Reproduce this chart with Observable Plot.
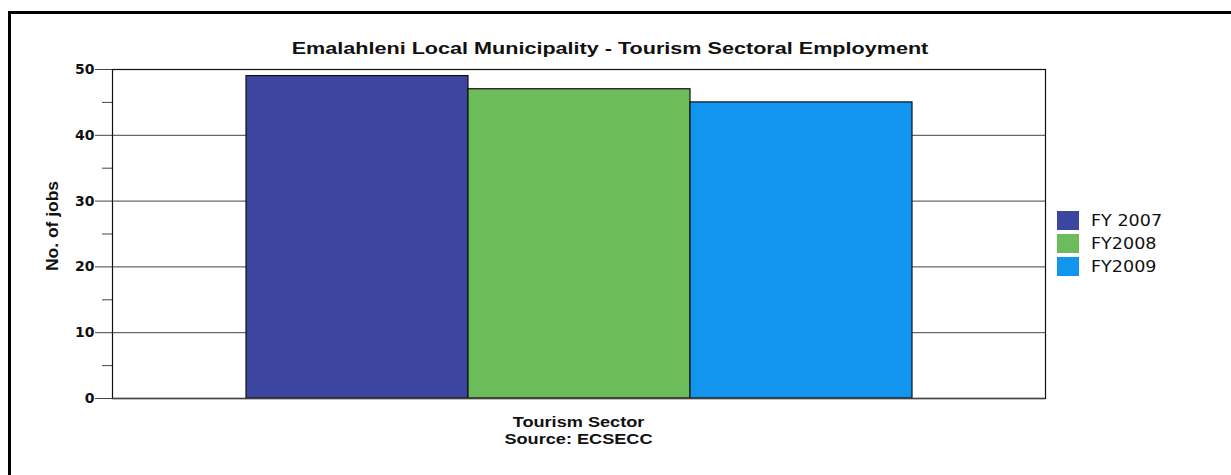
<!DOCTYPE html>
<html>
<head>
<meta charset="utf-8">
<script src="https://cdn.jsdelivr.net/npm/d3@7"></script>
<script src="https://cdn.jsdelivr.net/npm/@observablehq/plot@0.6"></script>
<style>
  html, body { margin: 0; padding: 0; background: #fff; }
  #wrap { position: relative; width: 1231px; height: 475px; overflow: hidden; font-family: "Liberation Sans", Arial, sans-serif; }
  #border { position: absolute; left: 8px; top: 11px; width: 1300px; height: 600px; border-left: 3px solid #000; border-top: 3px solid #000; }
  #chart { position: absolute; left: 0; top: 0; }
  .title { position: absolute; top: 39px; left: 110px; width: 1000px; text-align: center; font-weight: bold; font-size: 17px; line-height: 20px; color: #111; transform: scaleX(1.27); transform-origin: 50% 50%; white-space: nowrap; }
  .ylabel { position: absolute; left: 53px; top: 226px; transform: translate(-50%, -50%) rotate(-90deg) scaleX(1.09); font-weight: bold; font-size: 16px; white-space: nowrap; color: #111; }
  .xlab { position: absolute; left: 112px; width: 933px; top: 412.5px; text-align: center; font-weight: bold; font-size: 15.5px; line-height: 17.6px; color: #111; transform: scaleX(1.17); transform-origin: 50% 50%; }
  #legend { position: absolute; left: 1057px; top: 209px; font-family: "DejaVu Sans", Verdana, sans-serif; font-size: 15px; color: #111; }
  #legend .item { display: flex; align-items: center; height: 23px; }
  #legend .sw { width: 22px; height: 19px; margin-right: 12px; }
  #legend .tx { display: inline-block; transform: scaleX(1.17); transform-origin: 0 50%; white-space: nowrap; }
</style>
</head>
<body>
<div id="wrap">
  <div id="border"></div>
  <div id="chart"></div>
  <div class="title" id="title"></div>
  <div class="ylabel" id="ylabel"></div>
  <div class="xlab" id="xlab"></div>
  <div id="legend"></div>
</div>
<script>
const titleText = "Emalahleni Local Municipality - Tourism Sectoral Employment";
const yLabel = "No. of jobs";
const category = "Tourism Sector";
const sourceText = "Source: ECSECC";
const series = ["FY 2007", "FY2008", "FY2009"];
const values = [49, 47, 45];
const colors = ["#3c46a0", "#6cbc5c", "#1295ee"];
const majorTicks = [0, 10, 20, 30, 40, 50];
const minorTicks = [5, 15, 25, 35, 45];
const gridTicks = [10, 20, 30, 40];

const data = series.map((s, i) => ({series: s, value: values[i]}));

const chart = Plot.plot({
  width: 1231,
  height: 475,
  marginTop: 69,
  marginBottom: 77,
  marginLeft: 112,
  marginRight: 186,
  style: {fontFamily: "'DejaVu Sans', Verdana, sans-serif", background: "transparent", overflow: "visible"},
  x: {domain: series, paddingInner: 0, paddingOuter: 0.598, axis: null},
  y: {domain: [0, 50], axis: null},
  color: {domain: series, range: colors},
  marks: [
    Plot.gridY(gridTicks, {stroke: "#444", strokeOpacity: 1, strokeWidth: 1}),
    Plot.axisY(minorTicks, {tickSize: 10, text: null, label: null, stroke: "#444", strokeWidth: 1}),
    Plot.axisY(majorTicks, {tickSize: 17, tickPadding: 1, label: null, stroke: "#444", strokeWidth: 1, fontWeight: "bold", fontSize: 14, fill: "#111"}),
    Plot.barY(data, {x: "series", y: "value", fill: "series", stroke: "#111", strokeWidth: 1.2}),
    Plot.frame({stroke: "#111", strokeWidth: 1.2}),
    Plot.ruleY([0], {stroke: "#444", strokeWidth: 1.5})
  ]
});
document.getElementById("chart").appendChild(chart);
document.getElementById("title").textContent = titleText;
document.getElementById("ylabel").textContent = yLabel;
[category, sourceText].forEach(t => { const d = document.createElement("div"); d.textContent = t; document.getElementById("xlab").appendChild(d); });
const legend = document.getElementById("legend");
series.forEach((s, i) => {
  const item = document.createElement("div"); item.className = "item";
  const sw = document.createElement("div"); sw.className = "sw"; sw.style.background = colors[i];
  const tx = document.createElement("span"); tx.className = "tx"; tx.textContent = s;
  item.appendChild(sw); item.appendChild(tx); legend.appendChild(item);
});
</script>
</body>
</html>
